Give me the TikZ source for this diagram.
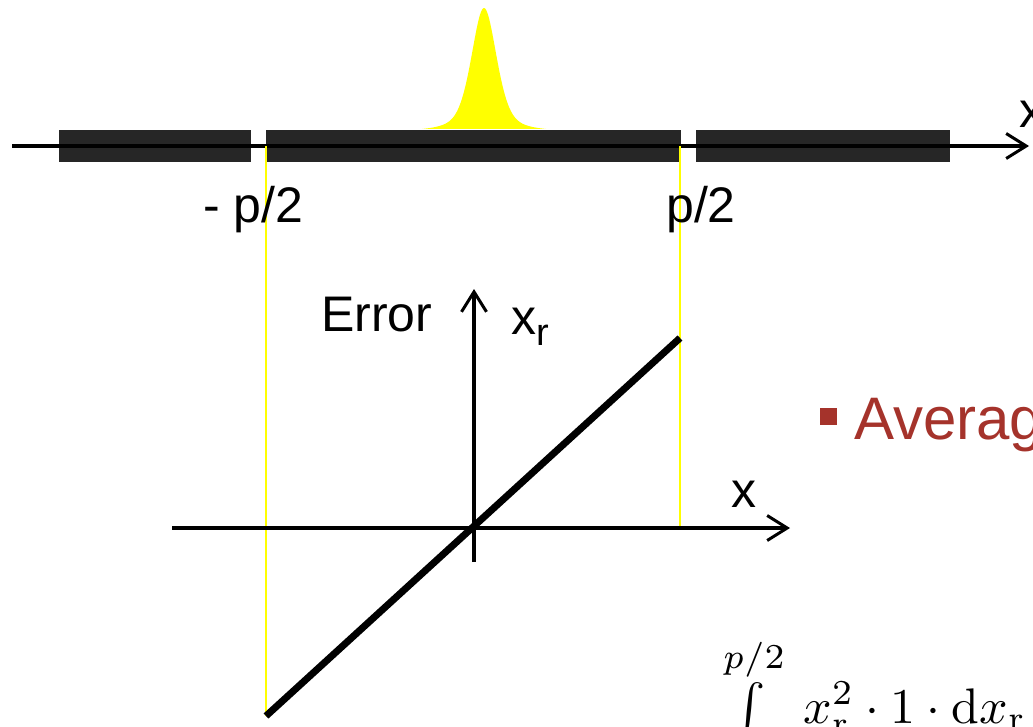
\documentclass[tikz,border=0pt]{standalone}
\usepackage[no-math]{fontspec}
\setmainfont{Liberation Sans}
\usetikzlibrary{arrows.meta}
\definecolor{barcol}{HTML}{262626}
\definecolor{avgcol}{HTML}{A5332B}
\definecolor{peakcol}{HTML}{FFFF00}
\begin{document}
\begin{tikzpicture}[x=1pt,y=-1pt,
  barbox/.style={fill=barcol},
  axisline/.style={line width=3.5pt,-{Straight Barb[length=20pt,width=25pt,line width=3pt]}},
  guide/.style={peakcol,line width=1.2pt},
  lab/.style={inner sep=0pt,font=\fontsize{50}{60}\selectfont},
]
\useasboundingbox (0,0) rectangle (1033,726);
\clip (0,0) rectangle (1033,726);
% bars
\fill[barbox] (59,130) rectangle (251,162);
\fill[barbox] (266,130) rectangle (680.5,162);
\fill[barbox] (696,130) rectangle (950,162);
% peak
\fill[peakcol] plot[domain=-62:62,samples=125] ({484+\x},{129-121*((0.55*exp(-(\x/12.5)^2/2)+0.45/(1+(\x/16)^2))-0.028)/0.972});
% coordinates
\coordinate (tl) at (12,146);
\coordinate (tr) at (1029,146);
\coordinate (gl) at (266,146);
\coordinate (gr) at (680,146);
\coordinate (xl) at (172,528);
\coordinate (xe) at (790,528);
\coordinate (gre) at (680,528);
\coordinate (yb) at (474,562);
\coordinate (yt) at (474,289);
\coordinate (dl) at (266,716);
\coordinate (du) at (680,338);
% top axis
\draw[axisline] (tl) -- (tr);
% guides
\draw[guide] (gl) -- (dl);
\draw[guide] (gr) -- (gre);
% lower axes
\draw[axisline] (xl) -- (xe);
\draw[axisline] (yb) -- (yt);
\draw[line width=7pt] (dl) -- (du);
% labels
\node[lab,anchor=base west] (mp) at (203,222) {- p/2};
\node[lab,anchor=base west] (pp) at (666,222) {p/2};
\node[lab,anchor=base west] (xt) at (1019,127) {x};
\node[lab,anchor=base west] (err) at (321,331) {Error};
\node[lab,anchor=base west] (xrl) at (511,334) {x\raisebox{-11pt}{\fontsize{38}{38}\selectfont r}};
\node[lab,anchor=base west] (xx) at (731,507) {x};
% bullet
\fill[avgcol] (820,408) rectangle (837,425);
\node[inner sep=0pt,anchor=base west,text=avgcol,font=\fontsize{60}{72}\selectfont] (avg) at (854,439) {Average};
% formula
\node[inner sep=0pt,anchor=base west,scale=5] (form) at (702,723) {$\int\limits_{\phantom{-p/2}}^{p/2} x_{\mathrm{r}}^2\cdot 1\cdot \mathrm{d}x_{\mathrm{r}}$};
\end{tikzpicture}
\end{document}
